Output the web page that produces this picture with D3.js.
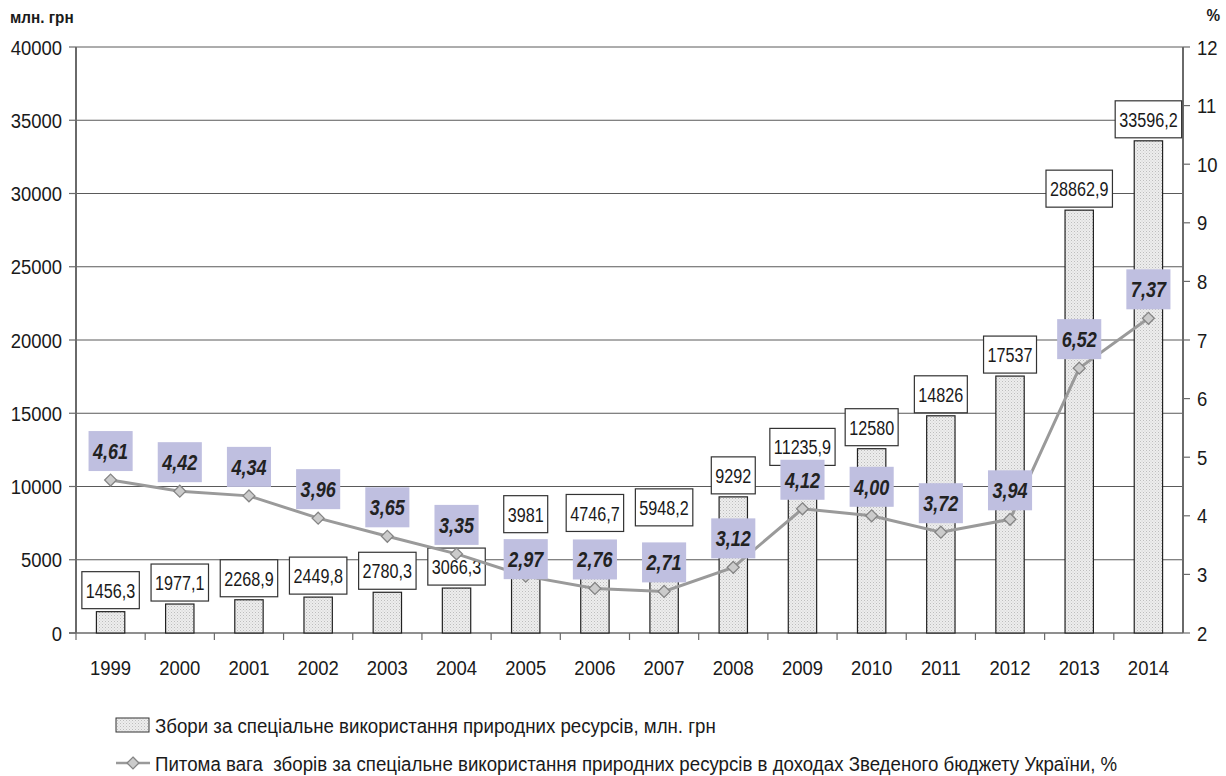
<!DOCTYPE html>
<html>
<head>
<meta charset="utf-8">
<script src="https://cdn.jsdelivr.net/npm/d3@7.9.0/dist/d3.min.js"></script>
<style>
  body { margin: 0; background: #fff; }
  svg { display: block; font-family: "Liberation Sans", Arial, sans-serif; }
  text { white-space: pre; }
</style>
</head>
<body>
<svg id="chart" width="1226" height="776"></svg>
<script>
const years = ['1999', '2000', '2001', '2002', '2003', '2004', '2005', '2006',
  '2007', '2008', '2009', '2010', '2011', '2012', '2013', '2014'];
const fees = [1456.3, 1977.1, 2268.9, 2449.8, 2780.3, 3066.3, 3981, 4746.7,
  5948.2, 9292, 11235.9, 12580, 14826, 17537, 28862.9, 33596.2];
const shares = [4.61, 4.42, 4.34, 3.96, 3.65, 3.35, 2.97, 2.76,
  2.71, 3.12, 4.12, 4.00, 3.72, 3.94, 6.52, 7.37];
const leftTicks = [0, 5000, 10000, 15000, 20000, 25000, 30000, 35000, 40000];
const rightTicks = [2, 3, 4, 5, 6, 7, 8, 9, 10, 11, 12];
const legendLabels = [
  'Збори за спеціальне використання природних ресурсів, млн. грн',
  'Питома вага  зборів за спеціальне використання природних ресурсів в доходах Зведеного бюджету України, %'
];
// manual label nudges (px), like the hand-moved labels in the original
const feeLabelShift = [0, 0, 0, 0, 0, 0, -39, -29, -17, 0, 0, 0, 0, 0, 0, 0];
const shareLabelShift = [0, 0, 0, 0, 0, 0, 12, 0, 0, 0, 0, 0, 0, 0, 0, 0];

const svg = d3.select('#chart');
const plotLeft = 76, plotRight = 1183, plotTop = 47, plotBottom = 633;

const x = d3.scaleBand().domain(years).range([plotLeft, plotRight]);
const yL = d3.scaleLinear().domain([0, 40000]).range([plotBottom, plotTop]);
const yR = d3.scaleLinear().domain([2, 12]).range([plotBottom, plotTop]);

const fmt = v => String(v).replace('.', ',');
const fmtPct = v => v.toFixed(2).replace('.', ',');

// dotted bar fill
const defs = svg.append('defs');
const pat = defs.append('pattern').attr('id', 'dots')
  .attr('width', 3).attr('height', 3).attr('patternUnits', 'userSpaceOnUse');
pat.append('rect').attr('width', 3).attr('height', 3).attr('fill', '#ededed');
pat.append('rect').attr('width', 1).attr('height', 1).attr('fill', '#bdbdbd');
pat.append('rect').attr('x', 1.5).attr('y', 1.5).attr('width', 1).attr('height', 1).attr('fill', '#cfcfcf');

// stretched-looking text helper
function label(g, str, tx, ty, opts) {
  const t = g.append('text')
    .attr('transform', `translate(${tx},${ty}) scale(${opts.sx},1)`)
    .attr('text-anchor', opts.anchor || 'middle')
    .attr('dy', '0.36em')
    .attr('font-size', opts.size)
    .attr('fill', opts.fill || '#1a1a1a')
    .text(str);
  if (opts.bold) t.attr('font-weight', 'bold');
  if (opts.italic) t.attr('font-style', 'italic');
  return t;
}

// gridlines
svg.append('g').selectAll('line').data(leftTicks.slice(1)).join('line')
  .attr('x1', plotLeft).attr('x2', plotRight)
  .attr('y1', d => yL(d)).attr('y2', d => yL(d))
  .attr('stroke', '#5a5a5a').attr('stroke-width', 1);

// left axis
const gl = svg.append('g');
gl.append('line').attr('x1', plotLeft).attr('x2', plotLeft).attr('y1', plotTop).attr('y2', plotBottom)
  .attr('stroke', '#6a6a6a').attr('stroke-width', 2);
leftTicks.forEach(d => {
  gl.append('line').attr('x1', plotLeft - 7).attr('x2', plotLeft).attr('y1', yL(d)).attr('y2', yL(d))
    .attr('stroke', '#6a6a6a').attr('stroke-width', 1.2);
  label(gl, d, 62, yL(d), { size: 21, sx: 0.88, anchor: 'end' });
});

// right axis
const gr = svg.append('g');
gr.append('line').attr('x1', plotRight).attr('x2', plotRight).attr('y1', plotTop).attr('y2', plotBottom)
  .attr('stroke', '#6a6a6a').attr('stroke-width', 2);
rightTicks.forEach(d => {
  gr.append('line').attr('x1', plotRight).attr('x2', plotRight + 7).attr('y1', yR(d)).attr('y2', yR(d))
    .attr('stroke', '#6a6a6a').attr('stroke-width', 1.2);
  label(gr, d, 1197, yR(d), { size: 21, sx: 0.88, anchor: 'start' });
});

// x axis
const gx = svg.append('g');
gx.append('line').attr('x1', plotLeft - 7).attr('x2', plotRight).attr('y1', plotBottom).attr('y2', plotBottom)
  .attr('stroke', '#6a6a6a').attr('stroke-width', 1.5);
years.forEach((yr, i) => {
  const bx = x(yr);
  gx.append('line').attr('x1', bx).attr('x2', bx).attr('y1', plotBottom).attr('y2', plotBottom + 7)
    .attr('stroke', '#6a6a6a').attr('stroke-width', 1.2);
  label(gx, yr, bx + x.bandwidth() / 2, 667, { size: 21, sx: 0.88 });
});

// bars
const barW = x.bandwidth() * 0.41;
svg.append('g').selectAll('rect').data(fees).join('rect')
  .attr('x', (d, i) => x(years[i]) + (x.bandwidth() - barW) / 2)
  .attr('y', d => yL(d))
  .attr('width', barW)
  .attr('height', d => plotBottom - yL(d))
  .attr('fill', 'url(#dots)')
  .attr('stroke', '#222').attr('stroke-width', 1.2);

// fee labels in boxes
const gfl = svg.append('g');
fees.forEach((d, i) => {
  const cx = x(years[i]) + x.bandwidth() / 2;
  const boxBottom = yL(d) - 3 + feeLabelShift[i];
  const cy = boxBottom - 18.5;
  const rect = gfl.append('rect');
  const t = label(gfl, fmt(d), cx, cy, { size: 21, sx: 0.77 });
  const w = t.node().getComputedTextLength() * 0.77 + 8;
  rect.attr('x', cx - w / 2).attr('y', boxBottom - 37).attr('width', w).attr('height', 37)
    .attr('fill', '#fff').attr('stroke', '#333').attr('stroke-width', 1.2);
});

// share line
const cxOf = i => x(years[i]) + x.bandwidth() / 2;
svg.append('path')
  .datum(shares)
  .attr('d', d3.line().x((d, i) => cxOf(i)).y(d => yR(d)))
  .attr('fill', 'none').attr('stroke', '#9a9a9a').attr('stroke-width', 3);

const diamond = d3.symbol().type(d3.symbolDiamond2).size(90);
svg.append('g').selectAll('path').data(shares).join('path')
  .attr('transform', (d, i) => `translate(${cxOf(i)},${yR(d)})`)
  .attr('d', diamond)
  .attr('fill', '#cbcbcb').attr('stroke', '#858585').attr('stroke-width', 1.3);

// share labels
const gsl = svg.append('g');
shares.forEach((d, i) => {
  const cx = cxOf(i);
  const cy = yR(d) - 29 + shareLabelShift[i];
  const rect = gsl.append('rect');
  const t = label(gsl, fmtPct(d), cx, cy, { size: 22, sx: 0.82, bold: true, italic: true, fill: '#222' });
  const w = t.node().getComputedTextLength() * 0.82 + 9;
  rect.attr('x', cx - w / 2).attr('y', cy - 20).attr('width', w).attr('height', 40)
    .attr('fill', '#bfbfe0');
});

// axis titles
label(svg, 'млн. грн', 10, 17, { size: 17, sx: 0.9, anchor: 'start', bold: true });
label(svg, '%', 1220, 15, { size: 17, sx: 0.9, anchor: 'end', bold: true });

// legend
const lg = svg.append('g');
lg.append('rect').attr('x', 116).attr('y', 718).attr('width', 33).attr('height', 14)
  .attr('fill', 'url(#dots)').attr('stroke', '#333').attr('stroke-width', 1);
label(lg, legendLabels[0], 155, 725, { size: 21, sx: 0.89, anchor: 'start' });
lg.append('line').attr('x1', 116).attr('x2', 150).attr('y1', 763).attr('y2', 763)
  .attr('stroke', '#9a9a9a').attr('stroke-width', 2.5);
lg.append('path').attr('transform', 'translate(133,763)').attr('d', diamond)
  .attr('fill', '#cbcbcb').attr('stroke', '#858585').attr('stroke-width', 1.3);
label(lg, legendLabels[1], 155, 763, { size: 21, sx: 0.89, anchor: 'start' });
</script>
</body>
</html>
